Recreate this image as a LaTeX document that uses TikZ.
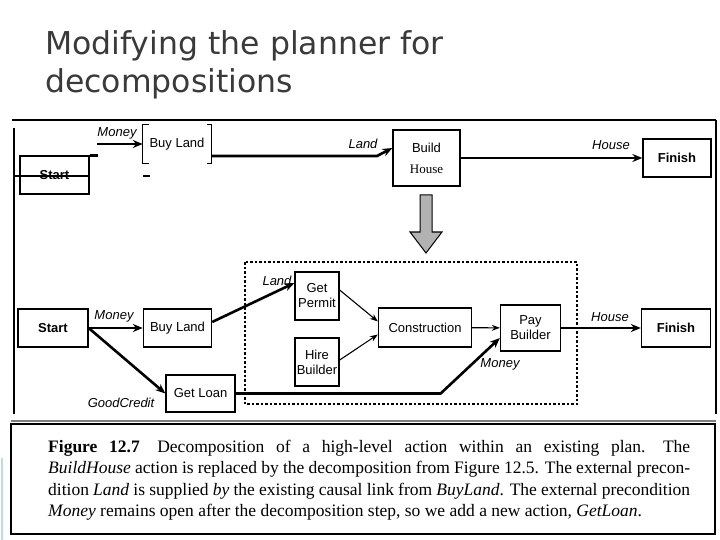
\documentclass[tikz,border=0pt]{standalone}
\usepackage{fontspec}
\setmainfont{Liberation Serif}
\setsansfont{Liberation Sans}
\newfontfamily\titlefont{DejaVu Sans}
\usetikzlibrary{arrows.meta}
\definecolor{titlegray}{RGB}{58,58,58}
\definecolor{edgeblue}{RGB}{190,220,228}

\begin{document}
\begin{tikzpicture}[x=1pt,y=-1pt,
  act/.style={draw,line width=1.3pt,align=center,inner sep=1pt,font=\sffamily\fontsize{13}{15}\selectfont},
  actbold/.style={act,font=\sffamily\bfseries\fontsize{13}{15}\selectfont},
  link/.style={line width=2.6pt,-{Stealth[length=10pt,width=8pt]}},
  thinlink/.style={line width=1.1pt,-{Stealth[length=8pt,width=6pt]}},
  cond/.style={font=\sffamily\itshape\fontsize{13}{15}\selectfont,inner sep=1pt},
  captext/.style={anchor=base west,inner sep=0pt,font=\fontsize{17.5}{21}\selectfont},
]
\useasboundingbox (0,0) rectangle (720,540);

% title
\node[anchor=base west,inner sep=0pt,text=titlegray,font=\titlefont\fontsize{31.5}{38}\selectfont] (title1) at (45,55) {Modifying the planner for};
\node[anchor=base west,inner sep=0pt,text=titlegray,font=\titlefont\fontsize{31.5}{38}\selectfont] (title2) at (45,93) {decompositions};

% frame of the figure
\draw[line width=1.5pt] (12,120) -- (716,120);
\draw[line width=1.2pt] (14,128) -- (14,414);
\draw[line width=1.2pt] (716,120) -- (716,414);
\draw[line width=2pt,gray] (11,421) -- (716,421);
\draw[line width=1.2pt] (11,424) rectangle (715,534);
\draw[line width=2pt,edgeblue] (2,458) -- (2,540);

% high-level plan
\node[actbold,minimum width=69pt,minimum height=38pt] (start1) at (54.5,175) {Start};
\draw[line width=1.1pt] ([xshift=-5pt,yshift=-1pt]start1.west) -- ([yshift=-1pt]start1.east);
\draw[line width=2.4pt] (start1.north east) -- ++(8,0);
\node[font=\sffamily\fontsize{13}{15}\selectfont,minimum width=68pt,minimum height=38pt,inner sep=1pt] (buyland1) at (177,144) {Buy Land};
\draw[line width=1.3pt] ([xshift=6pt]buyland1.north west) -- (buyland1.north west) -- (buyland1.south west) -- ++(6,0);
\draw[line width=1.3pt] ([xshift=-4pt]buyland1.north east) -- (buyland1.north east) -- (buyland1.south east) -- ++(-4,0);
\draw[line width=2pt] ([yshift=-13pt]buyland1.south west) -- ++(7,0);
\coordinate (money1) at (97,144);
\draw[link] (money1) -- (buyland1.west);
\node[cond] (money1lbl) at (117,133) {Money};
\node[act,minimum width=67pt,minimum height=56pt,font=\sffamily\fontsize{13}{21}\selectfont] (buildhouse) at (426.5,158) {Build\\{\rmfamily House}};
\draw[link] ([yshift=-12pt]buyland1.east) -- (377,156) -- ([yshift=10pt]buildhouse.west);
\node[cond] (land1lbl) at (363,144) {Land};
\node[actbold,minimum width=68pt,minimum height=38pt] (finish1) at (677,158) {Finish};
\draw[link] (buildhouse) -- (finish1);
\node[cond] (house1lbl) at (611,145) {House};

% refinement arrow
\draw[line width=1pt,fill=gray!60] (420,195) -- (432,195) -- (432,232) -- (442,232) -- (426,253) -- (410,232) -- (420,232) -- cycle;

% decomposed plan
\draw[line width=1.1pt,dash pattern=on 2.5pt off 2pt] (245,262) rectangle (577,404);
\node[actbold,minimum width=70pt,minimum height=38pt] (start2) at (53,328) {Start};
\node[act,minimum width=68pt,minimum height=38pt] (buyland2) at (177.5,328) {Buy Land};
\node[act,minimum width=44pt,minimum height=48pt] (getpermit) at (317,296) {Get\\Permit};
\node[act,minimum width=44pt,minimum height=48pt] (hirebuilder) at (317,362) {Hire\\Builder};
\node[act,minimum width=69pt,minimum height=37pt] (getloan) at (200.5,393.5) {Get Loan};
\node[act,minimum width=93pt,minimum height=39pt] (construction) at (425,327.5) {Construction};
\node[act,minimum width=60pt,minimum height=46pt] (paybuilder) at (530.5,328) {Pay\\Builder};
\node[actbold,minimum width=69pt,minimum height=38pt] (finish2) at (676,328) {Finish};

\draw[link] (start2) -- (buyland2);
\node[cond] (money2lbl) at (114,316) {Money};
\draw[link] (start2.east) -- (getloan.west);
\node[cond] (creditlbl) at (121,403) {GoodCredit};
\draw[link] ([yshift=6pt]buyland2.east) -- ([yshift=13pt]getpermit.west);
\node[cond] (land2lbl) at (277,281) {Land};
\draw[thinlink] ([yshift=6pt]getpermit.east) -- ([yshift=6pt]construction.west);
\draw[thinlink] ([yshift=2pt]hirebuilder.east) -- ([yshift=-7pt]construction.west);
\draw[thinlink] (construction) -- (paybuilder);
\draw[link] (getloan.east) -- ++(205,0) -- ([yshift=-10pt]paybuilder.west);
\node[cond] (money3lbl) at (500,364) {Money};
\draw[link] (paybuilder) -- (finish2);
\node[cond] (house2lbl) at (610,317) {House};

% caption
\node[captext] (cap1) at (48,452) {\makebox[642pt][s]{\textbf{Figure 12.7}\quad Decomposition of a high-level action within an existing plan.\quad The}};
\node[captext] (cap2) at (48,473.5) {\makebox[642pt][s]{\textit{BuildHouse} action is replaced by the decomposition from Figure 12.5. The external precon-}};
\node[captext] (cap3) at (48,495) {\makebox[642pt][s]{dition \textit{Land} is supplied \textit{by} the existing causal link from \textit{BuyLand}. The external precondition}};
\node[captext] (cap4) at (48,516.5) {\textit{Money} remains open after the decomposition step, so we add a new action, \textit{GetLoan}.};
\end{tikzpicture}
\end{document}
